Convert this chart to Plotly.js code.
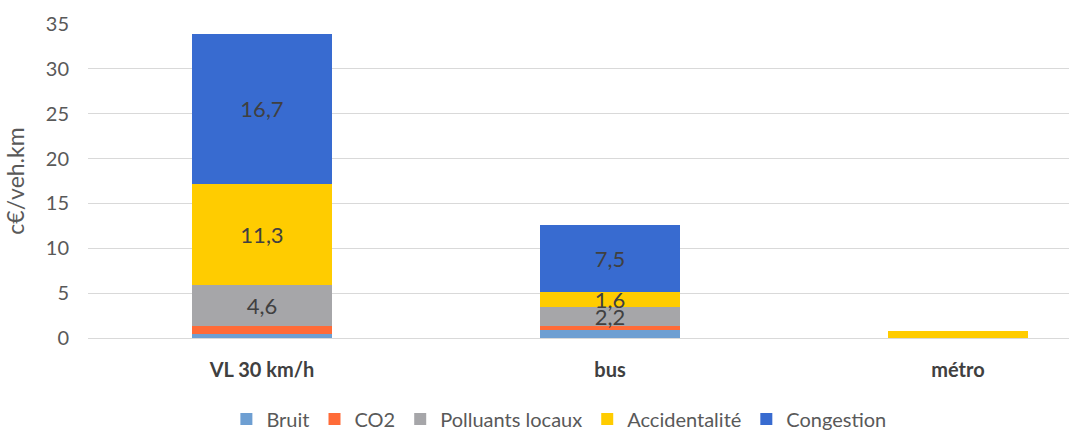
<!DOCTYPE html>
<html><head><meta charset="utf-8">
<script src="https://cdn.plot.ly/plotly-3.0.1.min.js"></script>
<style>html,body{margin:0;padding:0;background:#fff}#chart{width:1069px;height:432px}</style>
</head><body><div id="chart"></div>
<script>
const categories = ['VL 30 km/h', 'bus', 'métro'];
const bruit = [0.4, 0.9, 0];
const co2 = [0.9, 0.4, 0];
const polluants = [4.6, 2.2, 0];
const accidentalite = [11.3, 1.6, 0.8];
const congestion = [16.7, 7.5, 0];
const seriesNames = ['Bruit', 'CO2', 'Polluants locaux', 'Accidentalité', 'Congestion'];
const colors = ['#6E9FD2', '#FF6B38', '#A6A6A9', '#FFCC00', '#386BD0'];
const showLabels = [false, false, true, true, true];

function fmt(v){ return v > 0 ? v.toFixed(1).replace('.', ',') : ''; }

const allSeries = [bruit, co2, polluants, accidentalite, congestion];
const traces = allSeries.map((vals, i) => ({
  type: 'bar',
  name: seriesNames[i],
  x: categories,
  y: vals,
  marker: {color: colors[i], line: {width: 0}},
  text: showLabels[i] ? vals.map((v, j) => categories[j] === 'métro' ? '' : fmt(v)) : vals.map(() => ''),
  textposition: 'inside',
  insidetextanchor: 'middle',
  constraintext: 'none',
  textfont: {family: 'Lato, sans-serif', size: 22, color: '#404040'},
  hoverinfo: 'none'
}));

const layout = {
  width: 1069, height: 432,
  margin: {l: 88, r: 0, t: 24, b: 94},
  barmode: 'stack',
  bargap: 0.6,
  paper_bgcolor: '#fff', plot_bgcolor: '#fff',
  font: {family: 'Lato, sans-serif', color: '#595959'},
  xaxis: {
    type: 'category',
    range: [-0.5, 2.319],
    showgrid: false, zeroline: false, showline: false, ticks: '',
    ticklabelstandoff: 18,
    tickfont: {family: 'Lato, sans-serif', size: 20, color: '#404040', weight: 'bold'}
  },
  yaxis: {
    range: [0, 35],
    dtick: 5,
    showgrid: true, gridcolor: '#D9D9D9', gridwidth: 1,
    zeroline: true, zerolinecolor: '#D9D9D9', zerolinewidth: 1,
    showline: false, ticks: '',
    ticklabelstandoff: 18,
    tickfont: {family: 'Lato, sans-serif', size: 20, color: '#595959'},
    title: {text: 'c€/veh.km', font: {family: 'Lato, sans-serif', size: 23, color: '#595959'}, standoff: 14}
  },
  showlegend: true,
  legend: {
    orientation: 'h', x: 0.48, xanchor: 'center',
    yref: 'container', y: 0.03, yanchor: 'middle',
    font: {family: 'Lato, sans-serif', size: 20, color: '#595959'},
    traceorder: 'normal', itemwidth: 30, tracegroupgap: 0
  }
};

Plotly.newPlot('chart', traces, layout, {staticPlot: true, displayModeBar: false});
</script></body></html>
